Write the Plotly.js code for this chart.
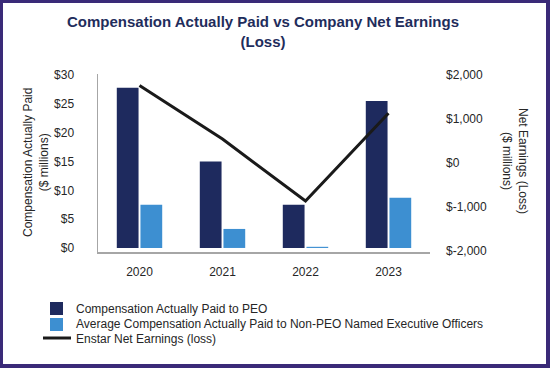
<!DOCTYPE html>
<html>
<head>
<meta charset="utf-8">
<script src="https://cdn.plot.ly/plotly-3.0.1.min.js"></script>
<style>
  html, body { margin: 0; padding: 0; background: #ffffff; }
  #chart { position: absolute; left: 0; top: 0; width: 550px; height: 368px; }
  #frame { position: absolute; left: 0; top: 0; width: 550px; height: 368px; box-sizing: border-box;
           border-style: solid; border-color: #3a2a78; border-width: 3px 4px 4px 3px; pointer-events: none; }
</style>
</head>
<body>
<div id="chart"></div>
<div id="frame"></div>
<script>
// ---- data ----
const years = ["2020", "2021", "2022", "2023"];
const peoComp = [27.8, 15.0, 7.5, 25.5];          // $ millions
const neoComp = [7.5, 3.3, 0.2, 8.7];             // $ millions
const netEarnings = [1760, 540, -870, 1130];      // $ millions
const seriesNames = [
  "Compensation Actually Paid to PEO",
  "Average Compensation Actually Paid to Non-PEO Named Executive Officers",
  "Enstar Net Earnings (loss)"
];
const chartTitle = "Compensation Actually Paid vs Company Net Earnings<br>(Loss)";
const leftTitle = "Compensation Actually Paid<br>($ millions)";
const rightTitle = "Net Earnings (Loss)<br>($ millions)";
const leftTicks = [0, 5, 10, 15, 20, 25, 30];
const leftTickText = ["$0", "$5", "$10", "$15", "$20", "$25", "$30"];
const rightTicks = [-2000, -1000, 0, 1000, 2000];
const rightTickText = ["$-2,000", "$-1,000", "$0", "$1,000", "$2,000"];

// ---- style ----
const FONT = "Liberation Sans, Arial, sans-serif";
const C_PEO = "#1e2a5e";
const C_NEO = "#3d8fd1";
const C_LINE = "#1a1a1a";
const TXT = "#262626";

// plot area in page pixels
const PL = 98, PR = 430, PT = 74, PB = 252;
const px = x => (x - PL) / (PR - PL);
const py = y => (PB - y) / (PB - PT);

const traces = [
  { type: "bar", x: years, y: peoComp, name: seriesNames[0], marker: { color: C_PEO }, showlegend: false, yaxis: "y" },
  { type: "bar", x: years, y: neoComp, name: seriesNames[1], marker: { color: C_NEO }, showlegend: false, yaxis: "y" },
  { type: "scatter", mode: "lines", x: years, y: netEarnings, name: seriesNames[2],
    line: { color: C_LINE, width: 3 }, showlegend: false, yaxis: "y2" }
];

const legendRows = [309, 324, 339];
const shapes = [
  { type: "rect", xref: "paper", yref: "paper", x0: px(50), x1: px(63), y0: py(302), y1: py(315),
    fillcolor: C_PEO, line: { width: 0 } },
  { type: "rect", xref: "paper", yref: "paper", x0: px(50), x1: px(63), y0: py(318), y1: py(331),
    fillcolor: C_NEO, line: { width: 0 } },
  { type: "line", xref: "paper", yref: "paper", x0: px(43), x1: px(71), y0: py(338), y1: py(338),
    line: { color: C_LINE, width: 3 } }
];

const annotations = [
  { text: "<b>" + chartTitle + "</b>", xref: "paper", yref: "paper", x: px(263), y: py(11),
    xanchor: "center", yanchor: "top", showarrow: false, align: "center",
    font: { family: FONT, size: 15, color: "#1f2d5c" } },
  { text: leftTitle, textangle: -90, xref: "paper", yref: "paper", xanchor: "center", yanchor: "middle",
    x: px(36), y: py(163), showarrow: false, font: { family: FONT, size: 12, color: TXT }, align: "center" },
  { text: rightTitle, textangle: 90, xref: "paper", yref: "paper", xanchor: "center", yanchor: "middle",
    x: px(515), y: py(161), showarrow: false, font: { family: FONT, size: 12, color: TXT }, align: "center" }
];
seriesNames.forEach((n, i) => {
  annotations.push({ text: n, xref: "paper", yref: "paper", x: px(74), y: py(legendRows[i]),
    xanchor: "left", yanchor: "middle", showarrow: false, font: { family: FONT, size: 12, color: TXT } });
});

const layout = {
  width: 550, height: 368,
  margin: { l: PL, r: 550 - PR, t: PT, b: 368 - PB },
  paper_bgcolor: "#ffffff", plot_bgcolor: "#ffffff",
  font: { family: FONT, size: 12, color: TXT },
  barmode: "group", bargap: 0.43, bargroupgap: 0.08,
  xaxis: { type: "category", showline: true, linecolor: "#a6a6a6", linewidth: 1.5, showgrid: false,
    ticks: "", tickfont: { size: 12, color: TXT }, ticklabelstandoff: 8, zeroline: false },
  yaxis: { range: [-0.7, 30.17], tickvals: leftTicks, ticktext: leftTickText, showgrid: false,
    zeroline: false, showline: true, linecolor: "#a6a6a6", linewidth: 1.5, ticks: "",
    ticklabelstandoff: 20, tickfont: { size: 12, color: TXT } },
  yaxis2: { range: [-2030, 2022], overlaying: "y", side: "right", tickvals: rightTicks, ticktext: rightTickText,
    showgrid: false, zeroline: false, showline: false, ticks: "", ticklabelstandoff: 15,
    tickfont: { size: 12, color: TXT } },
  shapes: shapes,
  annotations: annotations,
  showlegend: false
};

Plotly.newPlot("chart", traces, layout, { displayModeBar: false, staticPlot: true });
</script>
</body>
</html>
